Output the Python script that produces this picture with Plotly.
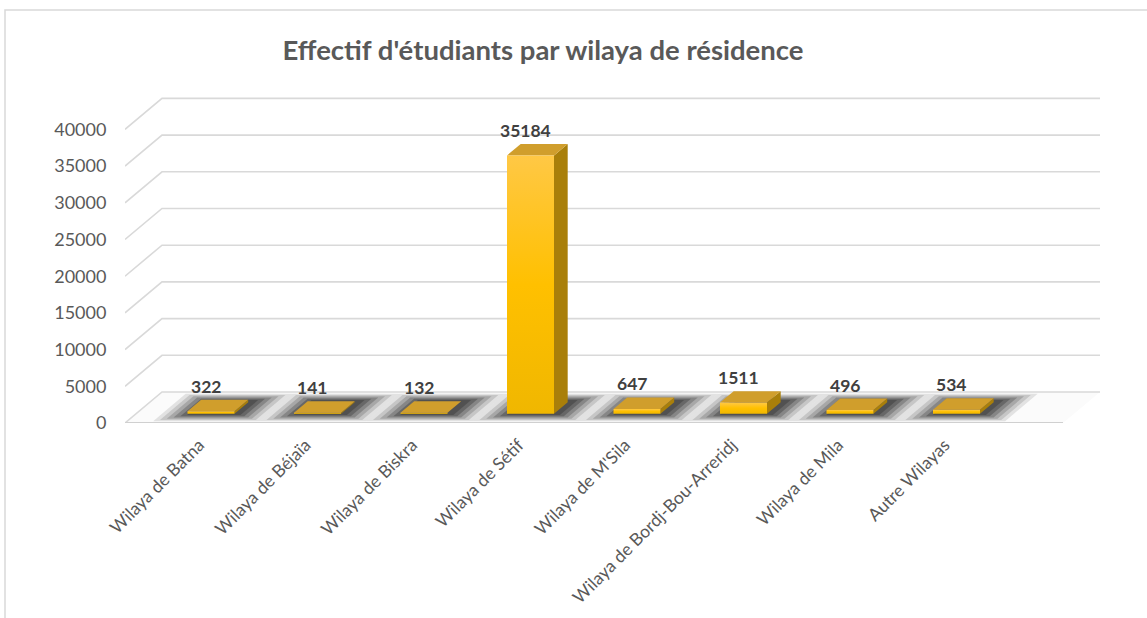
import plotly.graph_objects as go

# ---------------- data ----------------
categories = [
    "Wilaya de Batna",
    "Wilaya de Béjaïa",
    "Wilaya de Biskra",
    "Wilaya de Sétif",
    "Wilaya de M'Sila",
    "Wilaya de Bordj-Bou-Arreridj",
    "Wilaya de Mila",
    "Autre Wilayas",
]
values = [322, 141, 132, 35184, 647, 1511, 496, 534]
y_ticks = [0, 5000, 10000, 15000, 20000, 25000, 30000, 35000, 40000]
title_text = "Effectif d'étudiants par wilaya de résidence"

# ---------------- geometry / style ----------------
W, H = 1147, 618
ML, MR, MT, MB = 125, 40, 90, 195
PX_PER_UNIT = 0.00734          # vertical pixels per value unit
SX = 106.5                      # horizontal pixels per category
DXP, DYP = 37, 31               # oblique depth offset in pixels
Z0, Z1 = 0.30, 0.67             # bar depth extent (fraction of floor depth)
ORIGIN_PX = 211 - Z0 * DXP      # pixel of category 0 at floor front

DX = DXP / SX
DY = DYP / PX_PER_UNIT
X_RANGE = [(ML - ORIGIN_PX) / SX, (W - MR - ORIGIN_PX) / SX]
Y_RANGE = [0, (H - MB - MT) / PX_PER_UNIT]
BW = 47 / SX                    # bar width (category units)
XL = X_RANGE[0]                 # floor left
XR = (1063 - ORIGIN_PX) / SX    # floor right

GRID = "#D9D9D9"
TXT = "#595959"
FONT = "Lato, 'Open Sans', sans-serif"


def P(x, v, z):
    return x + z * DX, v + z * DY


fig = go.Figure()


def add_poly(pts, **kw):
    xs = [p[0] for p in pts] + [pts[0][0]]
    ys = [p[1] for p in pts] + [pts[0][1]]
    fig.add_trace(go.Scatter(
        x=xs, y=ys, mode="lines", fill="toself",
        line=dict(width=0, color="rgba(0,0,0,0)"),
        hoverinfo="skip", showlegend=False, **kw))


def add_line(pts, color=GRID, width=1.6):
    fig.add_trace(go.Scatter(
        x=[p[0] for p in pts], y=[p[1] for p in pts], mode="lines",
        line=dict(color=color, width=width), hoverinfo="skip", showlegend=False))


# floor
add_poly([P(XL, 0, 0), P(XR, 0, 0), P(XR, 0, 1), P(XL, 0, 1)], fillcolor="#FBFBFB")

# back wall gridlines + left wall diagonals
for v in y_ticks:
    add_line([P(XL, v, 0), P(XL, v, 1), P(XR, v, 1)])
# floor front edge
add_line([P(XL, 0, 0), P(XR, 0, 0)], color="#D0D0D0", width=1.8)

# blurred shadows on the floor
shadow_layers = [
    (0.50, 0.06, 0.94, "rgba(80,80,80,0.14)"),
    (0.45, 0.10, 0.90, "rgba(70,70,70,0.18)"),
    (0.40, 0.14, 0.86, "rgba(60,60,60,0.22)"),
    (0.35, 0.18, 0.82, "rgba(50,50,50,0.28)"),
    (0.30, 0.22, 0.78, "rgba(45,45,45,0.34)"),
    (0.25, 0.26, 0.74, "rgba(40,40,40,0.34)"),
]
for i, v in enumerate(values):
    c = i + 0.04
    for a, za, zb, col in shadow_layers:
        add_poly([P(c - a, 0, za), P(c + a, 0, za), P(c + a, 0, zb), P(c - a, 0, zb)],
                 fillcolor=col)

# bars
for i, v in enumerate(values):
    x0, x1 = i - BW / 2, i + BW / 2
    add_poly([P(x1, 0, Z0), P(x1, 0, Z1), P(x1, v, Z1), P(x1, v, Z0)], fillcolor="#A97F0A")
    add_poly([P(x0, v, Z0), P(x1, v, Z0), P(x1, v, Z1), P(x0, v, Z1)], fillcolor="#D09E2C")
    add_poly([P(x0, 0, Z0), P(x1, 0, Z0), P(x1, v, Z0), P(x0, v, Z0)],
             fillgradient=dict(type="vertical",
                               colorscale=[[0, "#F0B700"], [0.5, "#FFC000"], [1, "#FFC845"]]))
    fig.add_annotation(x=i + Z0 * DX - 0.05, y=v + Z1 * DY, text=f"<b>{v}</b>", showarrow=False,
                       yanchor="bottom", yshift=1,
                       font=dict(family=FONT, size=17.5, color="#404040"))

# category ticks: slightly left of the bar front-face centres
cat_pos = [i + Z0 * DX - 0.11 for i in range(len(categories))]

plot_w = W - ML - MR
plot_h = H - MT - MB
fig.add_shape(type="rect", xref="paper", yref="paper",
              x0=(5 - ML) / plot_w, x1=(1200 - ML) / plot_w,
              y0=(H - MB - 660) / plot_h, y1=(H - MB - 10) / plot_h,
              line=dict(color="#D9D9D9", width=1.5), layer="below")

fig.update_layout(
    width=W, height=H,
    margin=dict(l=ML, r=MR, t=MT, b=MB, autoexpand=False),
    paper_bgcolor="white", plot_bgcolor="white",
    title=dict(text=f"<b>{title_text}</b>", x=543 / W, xanchor="center",
               y=1 - 50 / H, yanchor="middle",
               font=dict(family=FONT, size=27.5, color=TXT)),
    xaxis=dict(range=X_RANGE, showgrid=False, zeroline=False, showline=False,
               automargin=False,
               tickmode="array", tickvals=cat_pos, ticktext=categories,
               tickangle=-45, ticks="outside", ticklen=4, tickcolor="rgba(0,0,0,0)",
               tickfont=dict(family=FONT, size=17.5, color=TXT), fixedrange=True),
    yaxis=dict(range=Y_RANGE, showgrid=False, zeroline=False, showline=False,
               automargin=False,
               tickmode="array", tickvals=y_ticks, ticktext=[str(t) for t in y_ticks],
               ticks="outside", ticklen=14, tickcolor="rgba(0,0,0,0)",
               tickfont=dict(family=FONT, size=18, color=TXT), fixedrange=True),
    showlegend=False,
)

fig.write_html("out.html", config={"displayModeBar": False},
               post_script="document.body.style.margin='0px';document.body.style.overflow='hidden';")
